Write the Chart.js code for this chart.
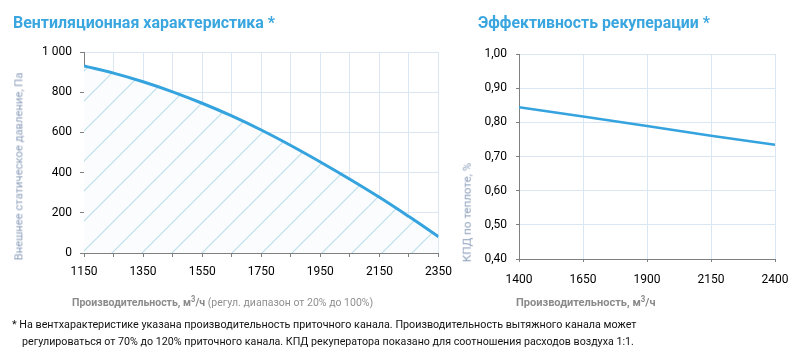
<!DOCTYPE html>
<html>
<head>
<meta charset="utf-8">
<script src="https://cdn.jsdelivr.net/npm/chart.js@4.4.1/dist/chart.umd.min.js"></script>
<style>
html,body{margin:0;padding:0;background:#fff;}
body{width:800px;height:353px;position:relative;overflow:hidden;font-family:Roboto,"Open Sans",sans-serif;}
.t{position:absolute;white-space:nowrap;line-height:1;transform-origin:0 50%;}
.title{color:#3aa6df;font-weight:bold;font-size:17px;}
.ytitle{color:#8c9fbb;font-size:11px;}
.xtitle{color:#8f8f8f;font-size:11.5px;}
.xtitle b{color:#8a8a8a;}
.sup{position:relative;top:-0.45em;font-size:0.72em;}
.note{color:#111;font-size:11px;}
#c1{position:absolute;left:0;top:0;}
#c2{position:absolute;left:460px;top:0;}
</style>
</head>
<body>
<canvas id="c1" width="460" height="300"></canvas>
<canvas id="c2" width="340" height="300"></canvas>

<div class="t title" style="left:13px;top:14px" data-w="262">Вентиляционная характеристика *</div>
<div class="t title" style="left:478px;top:14px" data-w="232">Эффективность рекуперации *</div>
<div class="t ytitle" data-w="188" data-rot="1" data-cx="19" data-cy="166">Внешнее статическое давление, Па</div>
<div class="t ytitle" data-w="99" data-rot="1" data-cx="467" data-cy="212.5">КПД по теплоте, %</div>
<div class="t xtitle" style="left:72px;top:297px" data-w="301"><b>Производительность, м<span class="sup">3</span>/ч</b> (регул. диапазон от 20% до 100%)</div>
<div class="t xtitle" style="left:516px;top:297px" data-w="140"><b>Производительность, м<span class="sup">3</span>/ч</b></div>
<div class="t note" style="left:12px;top:319px" data-w="625">* На вентхарактеристике указана производительность приточного канала. Производительность вытяжного канала может</div>
<div class="t note" style="left:22px;top:336px" data-w="612">регулироваться от 70% до 120% приточного канала. КПД рекуператора показано для соотношения расходов воздуха 1:1.</div>

<script>
// ---- data ----
const flowLeft = [1150, 1250, 1350, 1450, 1550, 1650, 1750, 1850, 1950, 2050, 2150, 2250, 2350];
const pressure = [930, 895, 852, 802, 745, 682, 612, 535, 453, 367, 277, 181, 81];
const leftXLabels = ['1150', '1350', '1550', '1750', '1950', '2150', '2350'];
const leftYLabels = ['0', '200', '400', '600', '800', '1 000'];

const flowRight = [1400, 1650, 1900, 2150, 2400];
const efficiency = [0.844, 0.817, 0.789, 0.761, 0.734];
const rightXLabels = ['1400', '1650', '1900', '2150', '2400'];
const rightYLabels = ['0,40', '0,50', '0,60', '0,70', '0,80', '0,90', '1,00'];

// ---- text fitting ----
function fit() {
  document.querySelectorAll('[data-w]').forEach(el => {
    el.style.transform = '';
    const w = +el.dataset.w, nat = el.offsetWidth, s = w / nat;
    if (el.dataset.rot) {
      el.style.left = (+el.dataset.cx - nat / 2) + 'px';
      el.style.top = (+el.dataset.cy - el.offsetHeight / 2) + 'px';
      el.style.transformOrigin = '50% 50%';
      el.style.transform = 'rotate(-90deg) scaleX(' + s + ')';
    } else {
      el.style.transform = 'scaleX(' + s + ')';
    }
  });
}
fit();
if (document.fonts && document.fonts.ready) document.fonts.ready.then(fit);

// ---- hatch pattern ----
function hatch() {
  const n = 30;
  const c = document.createElement('canvas');
  c.width = n; c.height = n;
  const g = c.getContext('2d');
  g.fillStyle = '#fbfcfd';
  g.fillRect(0, 0, n, n);
  g.strokeStyle = '#bcdeec';
  g.lineWidth = 1.2;
  g.beginPath();
  g.moveTo(-3, n + 3); g.lineTo(n + 3, -3);
  g.moveTo(-3, 3); g.lineTo(3, -3);
  g.moveTo(n - 3, n + 3); g.lineTo(n + 3, n - 3);
  g.stroke();
  const p = g.createPattern(c, 'repeat');
  if (p.setTransform && window.DOMMatrix) p.setTransform(new DOMMatrix().translate(5, 0));
  return p;
}

Chart.defaults.font.family = 'Roboto, "Open Sans", sans-serif';
Chart.defaults.font.size = 12;
Chart.defaults.color = '#000';

const gridBlue = '#dbe6f4';
const axisGrey = '#7f7f7f';

new Chart(document.getElementById('c1'), {
  type: 'line',
  data: {
    datasets: [{
      data: flowLeft.map((x, i) => ({ x: x, y: pressure[i] })),
      borderColor: '#35a3de',
      borderWidth: 3,
      pointRadius: 0,
      tension: 0.4,
      fill: 'origin',
      backgroundColor: hatch()
    }]
  },
  options: {
    responsive: false,
    animation: false,
    devicePixelRatio: 1,
    layout: { padding: { top: 52, right: 21, left: 0, bottom: 0 } },
    plugins: { legend: { display: false }, tooltip: { enabled: false } },
    scales: {
      x: {
        type: 'linear', min: 1150, max: 2350,
        afterFit: s => { s.height = 47; },
        ticks: {
          stepSize: 100, autoSkip: false, maxRotation: 0, padding: 8, color: '#000',
          callback: (v, i) => (i % 2 === 0 ? leftXLabels[i / 2] : '')
        },
        grid: { color: gridBlue, tickColor: axisGrey, tickLength: 4 },
        border: { color: axisGrey, width: 1 }
      },
      y: {
        min: 0, max: 1000,
        afterFit: s => { s.width = 84; },
        ticks: { stepSize: 200, padding: 8, color: '#000', callback: (v, i) => leftYLabels[i] },
        grid: { color: gridBlue, tickColor: axisGrey, tickLength: 4 },
        border: { color: axisGrey, width: 1 }
      }
    }
  }
});

new Chart(document.getElementById('c2'), {
  type: 'line',
  data: {
    datasets: [{
      data: flowRight.map((x, i) => ({ x: x, y: efficiency[i] })),
      borderColor: '#35a3de',
      borderWidth: 2.5,
      pointRadius: 0,
      fill: false
    }]
  },
  options: {
    responsive: false,
    animation: false,
    devicePixelRatio: 1,
    layout: { padding: { top: 54, right: 25, left: 0, bottom: 0 } },
    plugins: { legend: { display: false }, tooltip: { enabled: false } },
    scales: {
      x: {
        type: 'linear', min: 1400, max: 2400,
        afterFit: s => { s.height = 41; },
        ticks: { stepSize: 250, autoSkip: false, maxRotation: 0, padding: 11, color: '#000', callback: (v, i) => rightXLabels[i] },
        grid: { color: gridBlue, tickColor: axisGrey, tickLength: 3 },
        border: { color: axisGrey, width: 1 }
      },
      y: {
        min: 0.4, max: 1.0,
        afterFit: s => { s.width = 59; },
        ticks: { stepSize: 0.1, padding: 9, color: '#000', callback: (v, i) => rightYLabels[i] },
        grid: { color: gridBlue, tickColor: axisGrey, tickLength: 3 },
        border: { color: axisGrey, width: 1 }
      }
    }
  }
});
</script>
</body>
</html>
